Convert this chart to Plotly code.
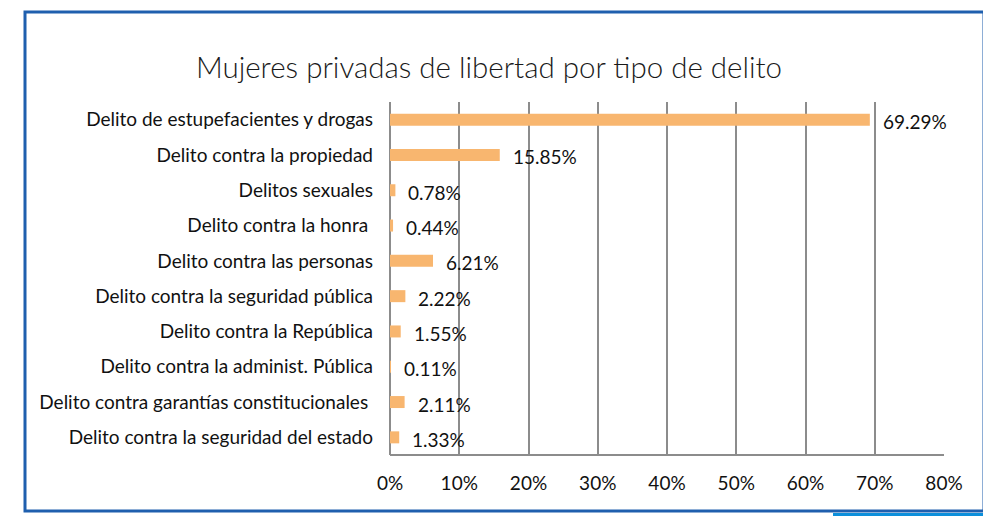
import plotly.graph_objects as go

categories = [
    "Delito de estupefacientes y drogas",
    "Delito contra la propiedad",
    "Delitos sexuales",
    "Delito contra la honra ",
    "Delito contra las personas",
    "Delito contra la seguridad pública",
    "Delito contra la República",
    "Delito contra la administ. Pública",
    "Delito contra garantías constitucionales ",
    "Delito contra la seguridad del estado",
]
values = [69.29, 15.85, 0.78, 0.44, 6.21, 2.22, 1.55, 0.11, 2.11, 1.33]
labels = [f"{v:.2f}%" for v in values]
tick_vals = [0, 10, 20, 30, 40, 50, 60, 70, 80]
tick_text = [f"{t}%" for t in tick_vals]

OFF = 8  # page body margin
W, H = 991 - OFF, 516 - OFF
L, R, T, B = 390 - OFF, 47, 102 - OFF, 61
pw, ph = W - L - R, H - T - B

def px_x(x):
    return (x - OFF - L) / pw

def px_y(y):
    return (H - B - (y - OFF)) / ph

font_main = "Lato, Carlito, Liberation Sans"

fig = go.Figure()
fig.add_trace(go.Bar(
    y=categories, x=values, orientation="h",
    marker=dict(color="#F8B66F", line=dict(width=0)),
    hoverinfo="skip",
))

for c, v, lab in zip(categories, values, labels):
    fig.add_annotation(
        x=v, y=c, xref="x", yref="y", text=lab, showarrow=False,
        xanchor="left", yanchor="middle", xshift=11, yshift=-2,
        font=dict(family=font_main, size=19, color="#111111"),
    )

# outer frame
fig.add_shape(type="rect", xref="paper", yref="paper",
              x0=px_x(25), x1=px_x(984), y0=px_y(511), y1=px_y(12),
              line=dict(color="#1F5FAE", width=3), fillcolor="rgba(0,0,0,0)", layer="below")
fig.add_shape(type="line", xref="paper", yref="paper",
              x0=px_x(833), x1=px_x(986), y0=px_y(514.5), y1=px_y(514.5),
              line=dict(color="#0C8FDB", width=3))
# bottom axis line
fig.add_shape(type="line", xref="paper", yref="paper",
              x0=0, x1=1, y0=0, y1=0, line=dict(color="#8C8C8C", width=2))

fig.update_layout(
    width=W, height=H,
    margin=dict(l=L, r=R, t=T, b=B),
    paper_bgcolor="white", plot_bgcolor="white",
    showlegend=False,
    bargap=0.66,
    title=dict(
        text="Mujeres privadas de libertad por tipo de delito",
        x=(489 - OFF) / W, xref="container", xanchor="center",
        y=1 - (68 - OFF) / H, yref="container", yanchor="middle",
        font=dict(family="Lato", size=29.5, color="#1a1a1a", weight=300),
    ),
    xaxis=dict(
        range=[0, 80], tickvals=tick_vals, ticktext=tick_text,
        showgrid=True, gridcolor="#8C8C8C", gridwidth=2,
        zeroline=True, zerolinecolor="#8C8C8C", zerolinewidth=2,
        showline=False, ticks="", ticklabelstandoff=15,
        tickfont=dict(family=font_main, size=19, color="#111111"),
        fixedrange=True,
    ),
    yaxis=dict(
        autorange="reversed", showgrid=False, showline=False, ticks="",
        ticklabelstandoff=16,
        tickfont=dict(family=font_main, size=19, color="#111111"),
        fixedrange=True,
    ),
)

fig.write_html("out.html")
